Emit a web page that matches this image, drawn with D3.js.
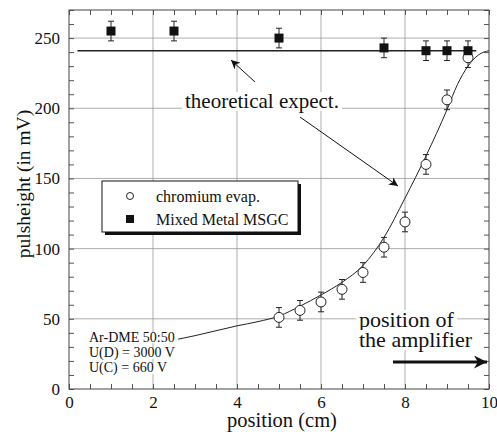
<!DOCTYPE html>
<html>
<head>
<meta charset="utf-8">
<script src="https://cdn.jsdelivr.net/npm/d3@7"></script>
<style>
  body { margin: 0; background: #fff; }
  svg, text { font-family: "Liberation Serif", "Times New Roman", serif; fill: #111; }
</style>
</head>
<body>
<svg id="chart" width="497" height="432"></svg>
<script>
// mixed metal MSGC (filled squares)
const mixedX = [1, 2.5, 5, 7.5, 8.5, 9, 9.5];
const mixedY = [255, 255, 250, 243, 241, 241, 241];
const mixedErr = [7, 7, 7, 7, 7, 7, 7];

// chromium evap. (open circles)
const chromX = [5, 5.5, 6, 6.5, 7, 7.5, 8, 8.5, 9, 9.5];
const chromY = [51, 56, 62, 71, 83, 101, 119, 160, 206, 236];
const chromErr = [7, 7, 7, 7, 7, 7, 7, 7, 7, 7];

// theoretical expectations
const flatX = [0.2, 9.7];
const flatY = [241, 241];
const curveX = [2.6, 3, 3.5, 4, 4.5, 5, 5.5, 6, 6.5, 7, 7.5, 8, 8.5, 9, 9.25, 9.5, 9.75, 10];
const curveY = [35.5, 38, 41.5, 45, 48, 52, 59, 67, 76, 88, 108, 136, 166, 199, 217, 230, 238, 241];

const xMajor = [0, 2, 4, 6, 8, 10];
const yMajor = [0, 50, 100, 150, 200, 250];
const xGrid = [2, 4, 6, 8];
const yGrid = [50, 100, 150, 200, 250];

const serif = "Liberation Serif";
const svg = d3.select("#chart");
const x = d3.scaleLinear().domain([0, 10]).range([69, 489]);
const y = d3.scaleLinear().domain([0, 270]).range([389, 10]);

const zip = (xs, ys) => xs.map((v, i) => ({x: v, y: ys[i]}));

// grid
svg.append("g").selectAll("line.v").data(xGrid).enter().append("line")
  .attr("x1", (d) => x(d)).attr("x2", (d) => x(d))
  .attr("y1", y(0)).attr("y2", y(270))
  .attr("stroke", "#999").attr("stroke-width", 0.8);
svg.append("g").selectAll("line.h").data(yGrid).enter().append("line")
  .attr("x1", x(0)).attr("x2", x(10))
  .attr("y1", (d) => y(d)).attr("y2", (d) => y(d))
  .attr("stroke", "#999").attr("stroke-width", 0.8);

// axes: minor ticks inward on all four sides
const minorX = d3.range(0, 10.01, 0.5);
const minorY = d3.range(0, 270.01, 10);
const axisStyle = (g) => {
  g.select(".domain").remove();
  g.selectAll(".tick line").attr("stroke", "#555");
};
svg.append("g").attr("transform", `translate(0,${y(0)})`)
  .call(d3.axisBottom(x).tickValues(minorX).tickSize(-5).tickFormat("")).call(axisStyle);
svg.append("g").attr("transform", `translate(0,${y(270)})`)
  .call(d3.axisTop(x).tickValues(minorX).tickSize(-5).tickFormat("")).call(axisStyle);
svg.append("g").attr("transform", `translate(${x(0)},0)`)
  .call(d3.axisLeft(y).tickValues(minorY).tickSize(-5).tickFormat("")).call(axisStyle);
svg.append("g").attr("transform", `translate(${x(10)},0)`)
  .call(d3.axisRight(y).tickValues(minorY).tickSize(-5).tickFormat("")).call(axisStyle);

// tick labels
const xLab = svg.append("g").attr("transform", `translate(0,${y(0)})`)
  .call(d3.axisBottom(x).tickValues(xMajor).tickSize(0).tickPadding(7).tickFormat(d3.format("d")));
xLab.select(".domain").remove();
xLab.attr("font-family", serif);
xLab.selectAll("text").attr("font-size", 17).attr("fill", "#111");
const yLab = svg.append("g").attr("transform", `translate(${x(0)},0)`)
  .call(d3.axisLeft(y).tickValues(yMajor).tickSize(0).tickPadding(9).tickFormat(d3.format("d")));
yLab.select(".domain").remove();
yLab.attr("font-family", serif);
yLab.selectAll("text").attr("font-size", 17).attr("fill", "#111");

// frame
svg.append("rect")
  .attr("x", x(0)).attr("y", y(270))
  .attr("width", x(10) - x(0)).attr("height", y(0) - y(270))
  .attr("fill", "none").attr("stroke", "#444").attr("stroke-width", 1);

// axis titles
svg.append("text").attr("x", 282).attr("y", 427).attr("text-anchor", "middle")
  .attr("font-size", 20.5).text("position (cm)");
svg.append("text").attr("transform", "translate(30,184) rotate(-90)").attr("text-anchor", "middle")
  .attr("font-size", 19.5).text("pulsheight (in mV)");

// text with white background
const bgText = (tx, ty, str, size, anchor) => {
  const g = svg.append("g");
  const rect = g.append("rect").attr("fill", "#fff");
  const t = g.append("text").attr("x", tx).attr("y", ty).attr("font-size", size)
    .attr("text-anchor", anchor || "start").text(str);
  const b = t.node().getBBox();
  rect.attr("x", b.x - 3).attr("y", b.y + 3).attr("width", b.width + 6).attr("height", b.height - 5);
  return t;
};

// arrowheads
const defs = svg.append("defs");
defs.append("marker").attr("id", "head").attr("viewBox", "0 0 10 10")
  .attr("refX", 10).attr("refY", 5).attr("markerWidth", 12).attr("markerHeight", 9)
  .attr("markerUnits", "userSpaceOnUse").attr("orient", "auto")
  .append("path").attr("d", "M0,0 L10,5 L0,10 L3,5 Z").attr("fill", "#111");
defs.append("marker").attr("id", "headBig").attr("viewBox", "0 0 10 10")
  .attr("refX", 10).attr("refY", 5).attr("markerWidth", 19).attr("markerHeight", 13)
  .attr("markerUnits", "userSpaceOnUse").attr("orient", "auto")
  .append("path").attr("d", "M0,0 L10,5 L0,10 L3,5 Z").attr("fill", "#111");

// theoretical lines
const line = d3.line().x((d) => x(d.x)).y((d) => y(d.y));
svg.append("path").datum(zip(flatX, flatY)).attr("d", line)
  .attr("fill", "none").attr("stroke", "#222").attr("stroke-width", 1.5);
svg.append("path").datum(zip(curveX, curveY)).attr("d", line.curve(d3.curveMonotoneX))
  .attr("fill", "none").attr("stroke", "#222").attr("stroke-width", 1);

bgText(262, 108, "theoretical expect.", 21, "middle");
svg.append("line").attr("x1", 255).attr("y1", 82).attr("x2", 231).attr("y2", 60)
  .attr("stroke", "#111").attr("stroke-width", 1).attr("marker-end", "url(#head)");
svg.append("line").attr("x1", 300).attr("y1", 117).attr("x2", 398).attr("y2", 186)
  .attr("stroke", "#111").attr("stroke-width", 1).attr("marker-end", "url(#head)");

// error bars
const errBars = (xs, ys, es) => {
  const g = svg.append("g").attr("stroke", "#222").attr("stroke-width", 1);
  const d = xs.map((v, i) => ({x: v, y: ys[i], e: es[i]}));
  g.selectAll("line.e").data(d).enter().append("line")
    .attr("x1", (p) => x(p.x)).attr("x2", (p) => x(p.x))
    .attr("y1", (p) => y(p.y - p.e)).attr("y2", (p) => y(p.y + p.e));
  g.selectAll("line.t").data(d).enter().append("line")
    .attr("x1", (p) => x(p.x) - 3).attr("x2", (p) => x(p.x) + 3)
    .attr("y1", (p) => y(p.y + p.e)).attr("y2", (p) => y(p.y + p.e));
  g.selectAll("line.b").data(d).enter().append("line")
    .attr("x1", (p) => x(p.x) - 3).attr("x2", (p) => x(p.x) + 3)
    .attr("y1", (p) => y(p.y - p.e)).attr("y2", (p) => y(p.y - p.e));
};
errBars(chromX, chromY, chromErr);
errBars(mixedX, mixedY, mixedErr);

svg.append("g").selectAll("circle").data(zip(chromX, chromY)).enter().append("circle")
  .attr("cx", (d) => x(d.x)).attr("cy", (d) => y(d.y)).attr("r", 5)
  .attr("fill", "#fff").attr("stroke", "#222").attr("stroke-width", 1);
svg.append("g").selectAll("rect").data(zip(mixedX, mixedY)).enter().append("rect")
  .attr("x", (d) => x(d.x) - 4.5).attr("y", (d) => y(d.y) - 4.5)
  .attr("width", 9).attr("height", 9).attr("fill", "#111");

// legend
const lg = svg.append("g");
lg.append("rect").attr("x", 105).attr("y", 184).attr("width", 196).attr("height", 51).attr("fill", "#111");
lg.append("rect").attr("x", 102).attr("y", 181).attr("width", 196).attr("height", 51)
  .attr("fill", "#fff").attr("stroke", "#111").attr("stroke-width", 1);
lg.append("circle").attr("cx", 130).attr("cy", 196).attr("r", 3.5)
  .attr("fill", "#fff").attr("stroke", "#222");
lg.append("rect").attr("x", 126).attr("y", 215).attr("width", 8).attr("height", 8).attr("fill", "#111");
lg.append("text").attr("x", 156).attr("y", 202).attr("font-size", 16).text("chromium evap.");
lg.append("text").attr("x", 156).attr("y", 225).attr("font-size", 16).text("Mixed Metal MSGC");

// gas / voltage note
bgText(89, 342, "Ar-DME 50:50", 14);
bgText(89, 357, "U(D) = 3000 V", 14);
bgText(89, 372, "U(C) = 660 V", 14);

// amplifier note
bgText(359, 327, "position of", 22);
bgText(359, 347, "the amplifier", 22);
svg.append("line").attr("x1", 393).attr("y1", 362).attr("x2", 487).attr("y2", 362)
  .attr("stroke", "#111").attr("stroke-width", 3).attr("marker-end", "url(#headBig)");
</script>
</body>
</html>
